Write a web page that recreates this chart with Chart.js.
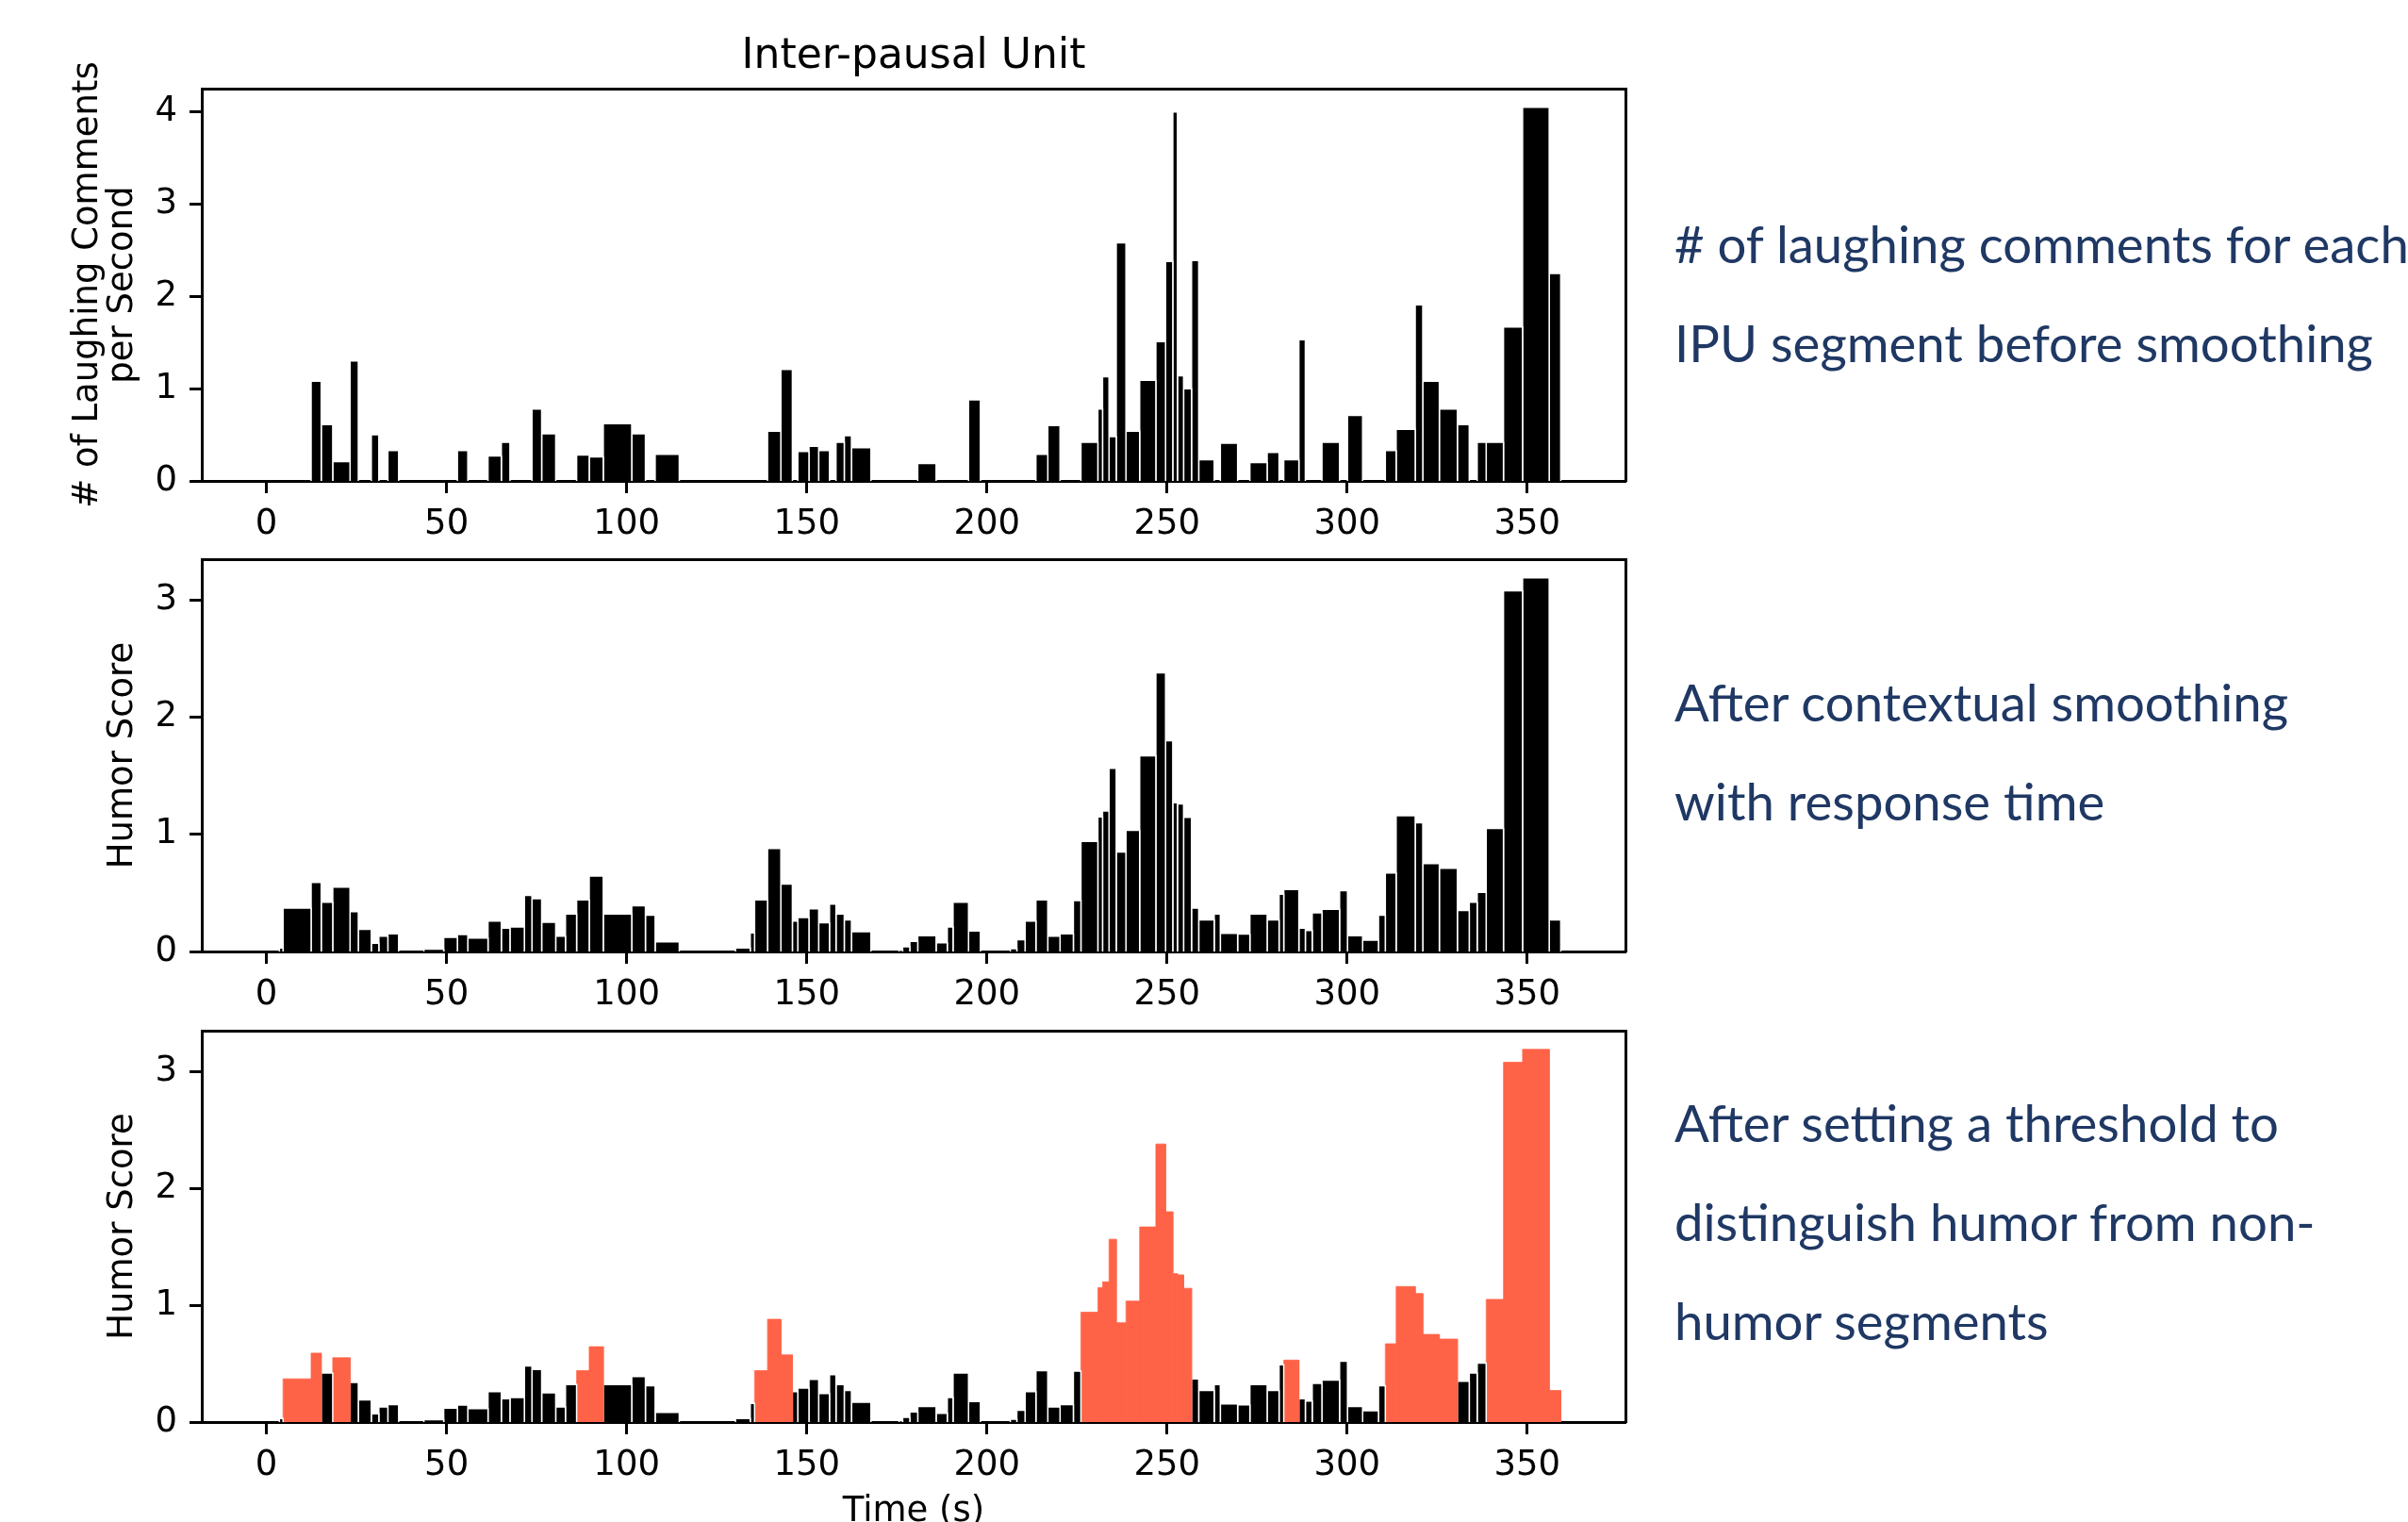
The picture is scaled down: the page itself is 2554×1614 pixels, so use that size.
<!DOCTYPE html>
<html><head><meta charset="utf-8">
<script src="https://cdn.jsdelivr.net/npm/chart.js@4.4.0/dist/chart.umd.min.js"></script>
<style>
html,body{margin:0;padding:0;background:#fff;width:2554px;height:1614px;overflow:hidden;position:relative;}
canvas{position:absolute;left:0;}
.note{position:absolute;left:1776px;font-family:Lato,sans-serif;font-size:54.5px;line-height:105px;color:#1F3864;white-space:nowrap;}
</style></head><body>
<canvas id="c1" width="1760" height="600" style="top:0px"></canvas>
<canvas id="c2" width="1760" height="600" style="top:500px"></canvas>
<canvas id="c3" width="1760" height="640" style="top:1000px"></canvas>
<div id="notes"></div>
<script>
// IPU segments (seconds)
const segStart = [3.6,4.6,12.4,15.2,18.4,23.2,25.5,29.1,31.2,33.7,43.7,49.2,53.0,55.9,61.5,65.2,67.6,71.6,73.7,76.4,80.3,83.0,86.1,89.6,93.5,101.4,105.2,107.9,130.2,134.3,135.5,139.1,142.8,146.0,147.5,150.6,153.3,156.3,158.1,160.4,162.4,175.6,176.6,178.6,180.8,185.9,189.0,190.6,194.9,206.5,208.3,210.6,213.6,216.9,220.3,224.0,226.1,230.8,232.1,233.9,235.9,238.6,242.4,246.9,249.6,251.6,252.9,254.6,256.8,258.8,263.1,264.8,269.6,273.0,277.8,281.1,282.4,286.6,288.4,290.3,293.0,297.9,300.1,304.3,308.7,310.6,313.6,318.9,321.0,325.6,330.6,333.9,336.1,338.6,343.4,348.7,356.1];
const segEnd = [4.6,12.4,15.2,18.4,23.2,25.5,29.1,31.2,33.7,36.7,49.2,53.0,55.9,61.5,65.2,67.6,71.6,73.7,76.4,80.3,83.0,86.1,89.6,93.5,101.4,105.2,107.9,114.6,134.3,135.5,139.1,142.8,146.0,147.5,150.6,153.3,156.3,158.1,160.4,162.4,167.8,176.6,178.6,180.8,185.9,189.0,190.6,194.9,198.2,208.3,210.6,213.6,216.9,220.3,224.0,226.1,230.8,232.1,233.9,235.9,238.6,242.4,246.9,249.6,251.6,252.9,254.6,256.8,258.8,263.1,264.8,269.6,273.0,277.8,281.1,282.4,286.6,288.4,290.3,293.0,297.9,300.1,304.3,308.7,310.6,313.6,318.9,321.0,325.6,330.6,333.9,336.1,338.6,343.4,348.7,356.1,359.3];
// # of laughing comments per second (before smoothing)
const laughRate = [0,0,1.08,0.61,0.21,1.30,0,0.50,0,0.33,0,0,0.33,0,0.27,0.42,0,0,0.78,0.51,0,0,0.28,0.26,0.62,0.51,0,0.29,0,0,0,0.54,1.21,0,0.32,0.375,0.33,0,0.42,0.49,0.36,0,0,0,0.19,0,0,0,0.88,0,0,0,0.29,0.60,0,0,0.42,0.78,1.13,0.48,2.58,0.54,1.09,1.51,2.38,4.00,1.14,1.00,2.39,0.23,0,0.41,0,0.20,0.31,0,0.23,1.53,0,0,0.42,0,0.71,0,0,0.33,0.56,1.91,1.08,0.78,0.61,0,0.42,0.42,1.67,4.05,2.25];
// humor score after contextual smoothing
const humorScore = [0.03,0.37,0.59,0.42,0.55,0.34,0.19,0.07,0.13,0.15,0.02,0.12,0.145,0.115,0.26,0.20,0.21,0.48,0.45,0.25,0.13,0.32,0.44,0.645,0.32,0.39,0.31,0.083,0.03,0.16,0.44,0.88,0.575,0.26,0.29,0.365,0.245,0.405,0.32,0.27,0.17,0.013,0.04,0.086,0.134,0.075,0.21,0.42,0.175,0.024,0.10,0.26,0.44,0.13,0.15,0.435,0.94,1.15,1.20,1.565,0.85,1.035,1.67,2.38,1.80,1.27,1.26,1.145,0.37,0.27,0.32,0.156,0.148,0.32,0.27,0.49,0.53,0.20,0.18,0.33,0.36,0.52,0.134,0.097,0.31,0.67,1.16,1.10,0.75,0.71,0.35,0.42,0.505,1.05,3.08,3.19,0.27];
// 1 = humor segment after thresholding
const humorFlag = [0,1,1,0,1,0,0,0,0,0, 0,0,0,0,0,0,0,0,0,0, 0,0,1,1,0,0,0,0,0,0, 1,1,1,0,0,0,0,0,0,0, 0,0,0,0,0,0,0,0,0,0, 0,0,0,0,0,0,1,1,1,1, 1,1,1,1,1,1,1,1,0,0, 0,0,0,0,0,0,1,0,0,0, 0,0,0,0,0,1,1,1,1,1, 0,0,0,1,1,1,1];
const xTickValues = [0,50,100,150,200,250,300,350];
const yTicksLaugh = [0,1,2,3,4];
const yTicksScore = [0,1,2,3];
const titleText = 'Inter-pausal Unit';
const yLabelTop = ['# of Laughing Comments','per Second'];
const yLabelScore = 'Humor Score';
const xLabel = 'Time (s)';
const notes = [
  {top:206, lines:['# of laughing comments for each','IPU segment before smoothing']},
  {top:692, lines:['After contextual smoothing','with response time']},
  {top:1138, lines:['After setting a threshold to','distinguish humor from non-','humor segments']}
];

const BLACK = '#000000', RED = '#FF6347';
const X_MIN = -17.96, X_MAX = 377.26;
const FONT = 'DejaVu Sans';

function segDatasets(values, flags) {
  const ds = [];
  for (let i = 0; i < values.length; i++) {
    const v = values[i];
    if (!v) continue;
    const red = flags && flags[i];
    ds.push({
      data: [{x: segStart[i], y: 0}, {x: segStart[i], y: v}, {x: segEnd[i], y: v}, {x: segEnd[i], y: 0}],
      backgroundColor: red ? RED : BLACK,
      borderColor: red ? RED : '#ffffff',
      borderWidth: red ? 0.8 : 1.5,
      fill: 'origin', pointRadius: 0, tension: 0
    });
  }
  return ds;
}

function makeOptions(o) {
  return {
    responsive: false, animation: false, devicePixelRatio: 1,
    layout: {padding: {top: o.padTop, left: 0, right: 36, bottom: 0}},
    plugins: {legend: {display: false}, tooltip: {enabled: false}},
    scales: {
      x: {type: 'linear', position: 'bottom', min: X_MIN, max: X_MAX,
        afterBuildTicks: s => { s.ticks = xTickValues.map(v => ({value: v})); },
        afterFit: s => { s.height = o.xAxisH; },
        grid: {display: true, drawOnChartArea: false, drawTicks: true, tickLength: 13, tickWidth: 3, tickColor: '#000'},
        border: {display: true, color: '#000', width: 3},
        ticks: {font: {family: FONT, size: 37}, color: '#000', padding: 11, maxRotation: 0, autoSkip: false},
        title: {display: !!o.showXTitle, text: xLabel, color: '#000',
          font: {family: FONT, size: 37, lineHeight: 1.2}, padding: {top: 0, bottom: 14.8}}
      },
      y: {type: 'linear', position: 'left', min: 0, max: o.yMax,
        afterBuildTicks: s => { s.ticks = o.yTicks.map(v => ({value: v})); },
        afterFit: s => { s.width = 214; },
        grid: {display: true, drawOnChartArea: false, drawTicks: true, tickLength: 13, tickWidth: 3, tickColor: '#000'},
        border: {display: true, color: '#000', width: 3},
        ticks: {font: {family: FONT, size: 37}, color: '#000', padding: 13},
        title: {display: true, text: o.yTitle, color: '#000',
          font: {family: FONT, size: 37, lineHeight: 1.0}, padding: {top: o.yTitlePad, bottom: 0}}
      },
      x2: {type: 'linear', position: 'top', min: X_MIN, max: X_MAX,
        afterFit: s => { s.height = o.x2H; },
        grid: {display: true, drawOnChartArea: false, drawTicks: false},
        ticks: {display: false},
        border: {display: true, color: '#000', width: 3},
        title: {display: !!o.showTitle, text: titleText, color: '#000',
          font: {family: FONT, size: 44, lineHeight: 1.2}, padding: {top: 34, bottom: 0}}
      },
      y2: {type: 'linear', position: 'right', min: 0, max: o.yMax,
        afterFit: s => { s.width = 0; },
        grid: {display: true, drawOnChartArea: false, drawTicks: false},
        ticks: {display: false},
        border: {display: true, color: '#000', width: 3}
      }
    }
  };
}

new Chart(document.getElementById('c1'), {
  type: 'line',
  data: {datasets: segDatasets(laughRate, null)},
  options: makeOptions({padTop: 0, x2H: 94, showTitle: true, xAxisH: 90, yMax: 4.2525, yTicks: yTicksLaugh, yTitle: yLabelTop, yTitlePad: 74.5})
});
new Chart(document.getElementById('c2'), {
  type: 'line',
  data: {datasets: segDatasets(humorScore, null)},
  options: makeOptions({padTop: 93, x2H: 0, xAxisH: 91, yMax: 3.35, yTicks: yTicksScore, yTitle: yLabelScore, yTitlePad: 111.5})
});
new Chart(document.getElementById('c3'), {
  type: 'line',
  data: {datasets: segDatasets(humorScore, humorFlag)},
  options: makeOptions({padTop: 93, x2H: 0, xAxisH: 132, yMax: 3.35, yTicks: yTicksScore, yTitle: yLabelScore, yTitlePad: 111.5, showXTitle: true})
});

const host = document.getElementById('notes');
notes.forEach(n => {
  const d = document.createElement('div');
  d.className = 'note';
  d.style.top = n.top + 'px';
  d.innerHTML = n.lines.map(l => l.replace(/&/g,'&amp;').replace(/</g,'&lt;')).join('<br>');
  host.appendChild(d);
});
</script>
</body></html>
